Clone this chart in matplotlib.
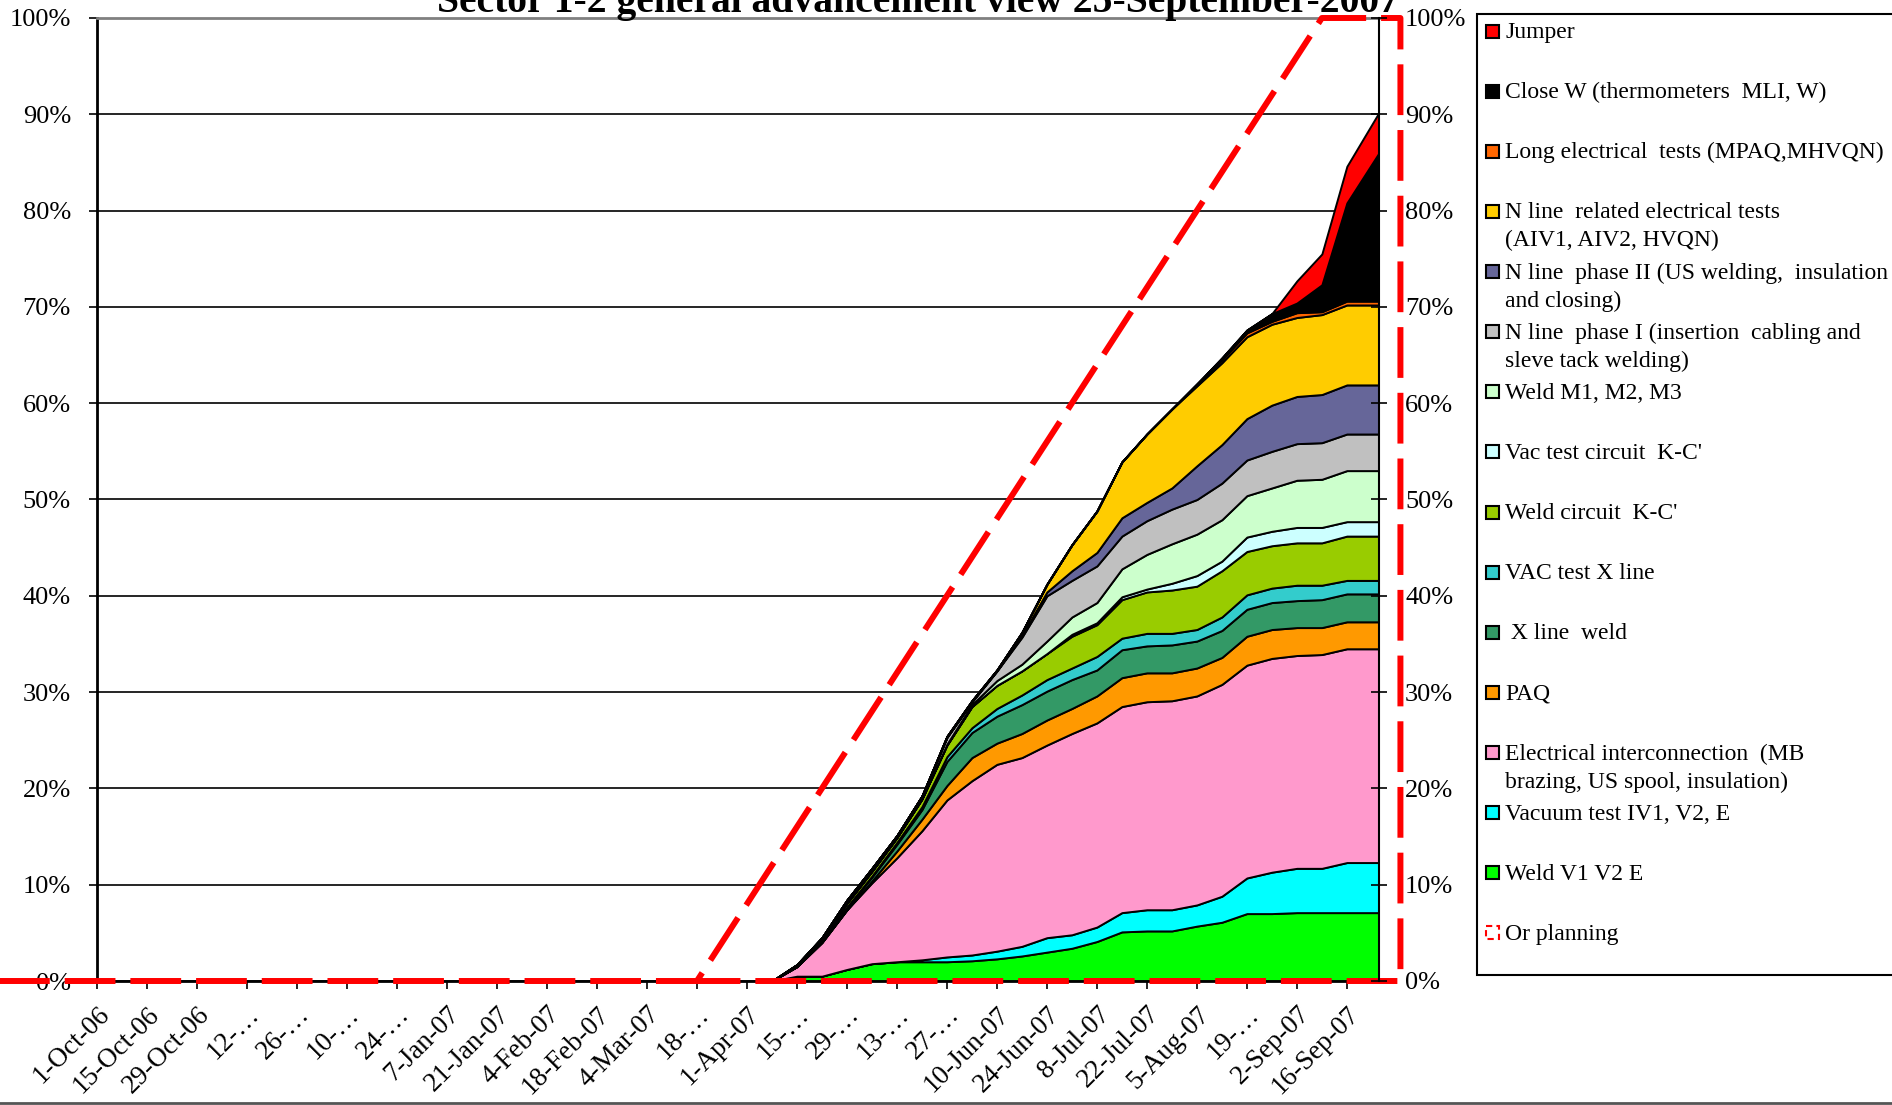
import numpy as np
import matplotlib
matplotlib.use('Agg')
import matplotlib.pyplot as plt
from matplotlib.patches import Rectangle

plt.rcParams['font.family'] = ['Liberation Serif', 'DejaVu Serif']

# weekly progress readings (Sundays) + report date
dates = np.array(['2007-04-08', '2007-04-15', '2007-04-22', '2007-04-29', '2007-05-06',
                  '2007-05-13', '2007-05-20', '2007-05-27', '2007-06-03', '2007-06-10',
                  '2007-06-17', '2007-06-24', '2007-07-01', '2007-07-08', '2007-07-15',
                  '2007-07-22', '2007-07-29', '2007-08-05', '2007-08-12', '2007-08-19',
                  '2007-08-26', '2007-09-02', '2007-09-09', '2007-09-16', '2007-09-25'],
                 dtype='datetime64[D]')

# share of each activity (%), bottom of the stack first
weld_v1v2e   = [0, 0.5, 0.5, 1.2, 1.8, 2.0, 2.0, 2.0, 2.1, 2.3, 2.6, 3.0, 3.4, 4.1, 5.1, 5.2, 5.2, 5.7, 6.1, 7.0, 7.0, 7.1, 7.1, 7.1, 7.1]
vacuum_test  = [0, 0, 0, 0, 0, 0, 0.2, 0.5, 0.6, 0.8, 1.0, 1.5, 1.4, 1.5, 2.0, 2.2, 2.2, 2.2, 2.7, 3.7, 4.3, 4.6, 4.6, 5.2, 5.2]
elec_interco = [0, 1.0, 3.5, 6.2, 8.4, 10.8, 13.4, 16.3, 18.1, 19.4, 19.6, 20.0, 20.9, 21.2, 21.4, 21.6, 21.7, 21.7, 22.0, 22.1, 22.2, 22.1, 22.2, 22.2, 22.2]
paq          = [0, 0, 0, 0, 0.2, 0.7, 1.2, 1.5, 2.4, 2.2, 2.5, 2.6, 2.6, 2.8, 3.0, 3.0, 2.9, 2.9, 2.8, 3.0, 3.0, 2.9, 2.8, 2.8, 2.8]
x_line_weld  = [0, 0, 0.1, 0.2, 0.4, 0.7, 1.0, 2.5, 2.6, 2.8, 3.0, 3.0, 3.0, 2.7, 2.9, 2.8, 2.9, 2.8, 2.8, 2.8, 2.8, 2.8, 2.9, 2.9, 2.9]
vac_x_line   = [0, 0, 0, 0.1, 0.1, 0.2, 0.3, 0.5, 0.5, 0.8, 1.0, 1.2, 1.2, 1.4, 1.2, 1.3, 1.2, 1.2, 1.4, 1.5, 1.5, 1.6, 1.5, 1.4, 1.4]
weld_kc      = [0, 0.1, 0.2, 0.4, 0.5, 0.5, 0.8, 1.2, 2.2, 2.4, 2.5, 2.7, 3.3, 3.3, 4.0, 4.3, 4.5, 4.5, 4.8, 4.5, 4.4, 4.4, 4.4, 4.6, 4.6]
vac_kc       = [0, 0, 0, 0, 0, 0, 0, 0, 0, 0, 0, 0, 0.2, 0.2, 0.3, 0.3, 0.7, 1.1, 1.0, 1.5, 1.5, 1.6, 1.6, 1.5, 1.5]
weld_m123    = [0, 0, 0, 0, 0, 0, 0, 0.1, 0.2, 0.5, 0.7, 1.3, 1.8, 2.1, 2.9, 3.6, 4.1, 4.3, 4.3, 4.3, 4.5, 4.9, 5.0, 5.3, 5.3]
n_phase1     = [0, 0.1, 0.2, 0.3, 0.3, 0.2, 0.3, 0.7, 0.3, 1.0, 2.8, 4.7, 3.8, 3.8, 3.4, 3.5, 3.6, 3.6, 3.8, 3.7, 3.8, 3.8, 3.8, 3.8, 3.8]
n_phase2     = [0, 0, 0, 0, 0, 0, 0, 0, 0, 0, 0.2, 0.4, 1.0, 1.4, 1.9, 1.9, 2.2, 3.5, 4.0, 4.3, 4.8, 4.9, 5.0, 5.1, 5.1]
n_elec_tests = [0, 0, 0, 0, 0, 0, 0, 0.1, 0.1, 0.1, 0.3, 0.8, 2.7, 4.3, 5.8, 7.1, 8.2, 8.3, 8.5, 8.5, 8.4, 8.2, 8.3, 8.3, 8.3]
long_tests   = [0, 0, 0, 0, 0, 0, 0, 0, 0, 0, 0, 0, 0, 0, 0, 0, 0, 0.2, 0.3, 0.4, 0.3, 0.5, 0.3, 0.4, 0.4]
close_w      = [0, 0, 0, 0, 0, 0, 0, 0, 0, 0, 0, 0, 0, 0, 0, 0, 0, 0, 0.2, 0.3, 0.8, 1.0, 2.8, 10.2, 15.4]
jumper       = [0, 0, 0, 0, 0, 0, 0, 0, 0, 0, 0, 0, 0, 0, 0, 0, 0, 0, 0, 0, 0, 2.3, 3.2, 3.8, 4.2]

# "Or planning" trace
plan_dates = np.array(['2006-09-03', '2007-03-18', '2007-09-09', '2007-10-01', '2007-10-01', '2007-03-18'],
                      dtype='datetime64[D]')
plan_pct = [0, 0, 100, 100, 0, 0]

tick_dates = np.array(['2006-10-01', '2006-10-15', '2006-10-29', '2006-11-12', '2006-11-26',
                       '2006-12-10', '2006-12-24', '2007-01-07', '2007-01-21', '2007-02-04',
                       '2007-02-18', '2007-03-04', '2007-03-18', '2007-04-01', '2007-04-15',
                       '2007-04-29', '2007-05-13', '2007-05-27', '2007-06-10', '2007-06-24',
                       '2007-07-08', '2007-07-22', '2007-08-05', '2007-08-19', '2007-09-02',
                       '2007-09-16'], dtype='datetime64[D]')
tick_labels = ['1-Oct-06', '15-Oct-06', '29-Oct-06', '12-\u2026', '26-\u2026', '10-\u2026', '24-\u2026',
               '7-Jan-07', '21-Jan-07', '4-Feb-07', '18-Feb-07', '4-Mar-07', '18-\u2026', '1-Apr-07',
               '15-\u2026', '29-\u2026', '13-\u2026', '27-\u2026', '10-Jun-07', '24-Jun-07', '8-Jul-07',
               '22-Jul-07', '5-Aug-07', '19-\u2026', '2-Sep-07', '16-Sep-07']

series = [weld_v1v2e, vacuum_test, elec_interco, paq, x_line_weld, vac_x_line, weld_kc,
          vac_kc, weld_m123, n_phase1, n_phase2, n_elec_tests, long_tests, close_w, jumper]
labels = ['Weld V1 V2 E', 'Vacuum test IV1, V2, E',
          'Electrical interconnection  (MB\nbrazing, US spool, insulation)', 'PAQ',
          ' X line  weld', 'VAC test X line', "Weld circuit  K-C'", "Vac test circuit  K-C'",
          'Weld M1, M2, M3', 'N line  phase I (insertion  cabling and\nsleve tack welding)',
          'N line  phase II (US welding,  insulation\nand closing)',
          'N line  related electrical tests\n(AIV1, AIV2, HVQN)',
          'Long electrical  tests (MPAQ,MHVQN)', 'Close W (thermometers  MLI, W)', 'Jumper']
colors = ['#00FF00', '#00FFFF', '#FF99CC', '#FF9900', '#339966', '#33CCCC', '#99CC00',
          '#CCFFFF', '#CCFFCC', '#C0C0C0', '#666699', '#FFCC00', '#FF6600', '#000000', '#FF0000']

W, H = 1892, 1105
fig = plt.figure(figsize=(W / 100, H / 100), dpi=100)
ax = fig.add_axes([97 / W, 1 - 981 / H, (1379 - 97) / W, (981 - 18) / H])

ax.stackplot(dates, *series, colors=colors, edgecolor='black', linewidth=1.4, zorder=2)

ax.plot(plan_dates, plan_pct, color='red', lw=4.3, linestyle=(0, (8.5, 2.5)),
        clip_on=False, zorder=6)

ax.set_xlim(np.datetime64('2006-10-01'), np.datetime64('2007-09-25'))
ax.set_ylim(0, 100)
yt = np.arange(0, 101, 10)
ax.set_yticks(yt)
ax.set_yticklabels([f'{v}%' for v in yt])
ax.set_xticks(tick_dates)
ax.set_xticklabels(tick_labels, rotation=45, ha='right', va='top', rotation_mode='anchor')
ax.yaxis.grid(True, color='black', lw=1.2)
ax.set_axisbelow(True)
ax.tick_params(axis='y', direction='out', length=5.8, width=1.2, labelsize=19, pad=13)
ax.tick_params(axis='x', direction='out', length=5.8, width=1.2, labelsize=19.5, pad=9)
ax.spines['right'].set_visible(False)
ax.spines['top'].set_color('#808080')
ax.spines['top'].set_linewidth(2)
ax.spines['left'].set_linewidth(2)
ax.spines['bottom'].set_linewidth(2)

ax2 = ax.twinx()
ax2.set_ylim(0, 100)
ax2.set_yticks(yt)
ax2.set_yticklabels([f'{v}%' for v in yt])
ax2.tick_params(axis='y', direction='inout', length=11.5, width=1.2, labelsize=19, pad=13)
for s in ['left', 'top', 'bottom']:
    ax2.spines[s].set_visible(False)
ax2.spines['right'].set_linewidth(1.5)

# overlay in pixel coordinates for title, legend and frame
ov = fig.add_axes([0, 0, 1, 1], zorder=10)
ov.set_xlim(0, W)
ov.set_ylim(H, 0)
ov.axis('off')

ov.text(918, 12, 'Sector 1-2 general advancement view 25-September-2007',
        fontsize=28.5, fontweight='bold', ha='center', va='baseline')
ov.axhline(1103, color='#555555', lw=2)

ov.add_patch(Rectangle((1477, 14), 420, 961, facecolor='white', edgecolor='black', lw=1.5))
legend_entries = list(zip(labels[::-1], colors[::-1])) + [('Or planning', None)]
for i, (lab, col) in enumerate(legend_entries):
    yc = 31 + i * 60.13
    if col is None:
        ov.add_patch(Rectangle((1486, yc - 6.5), 13, 13, facecolor='none', edgecolor='red',
                               lw=1.5, linestyle=(0, (3, 2))))
    else:
        ov.add_patch(Rectangle((1486, yc - 6.5), 13, 13, facecolor=col, edgecolor='black', lw=1.5))
    for j, line in enumerate(lab.split('\n')):
        ov.text(1505, yc + 7 + j * 28, line, fontsize=17, ha='left', va='baseline')

fig.savefig('out.png', dpi=100)
